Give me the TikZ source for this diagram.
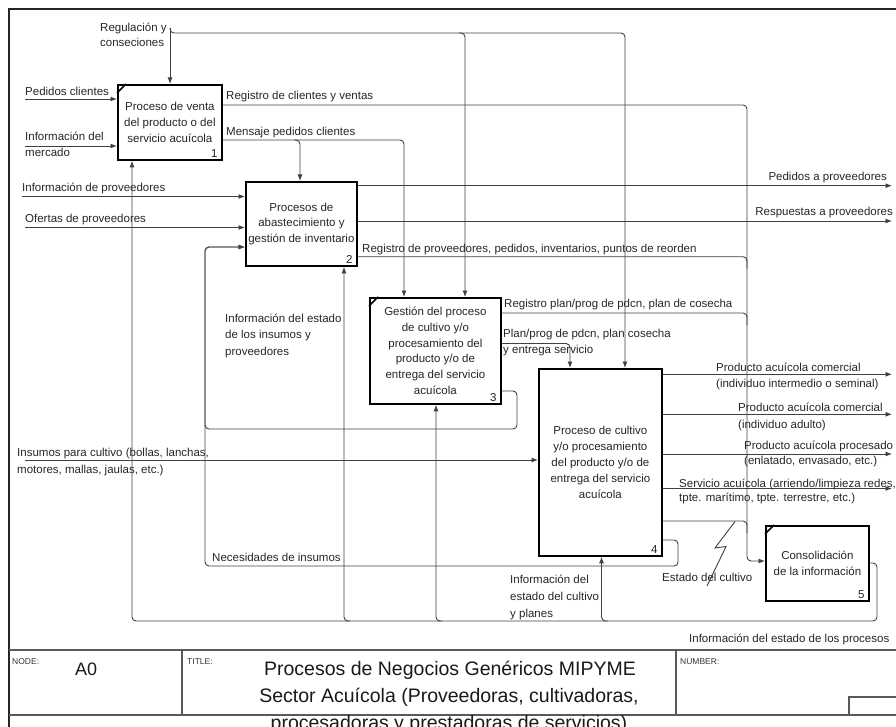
\documentclass[tikz,border=0pt]{standalone}
\usepackage{fontspec}
\setmainfont{Liberation Sans}
\usetikzlibrary{arrows.meta,calc}
\newcommand\lblfont{\fontsize{11.5}{15.5}\selectfont}
\newcommand\boxfont{\fontsize{11.5}{15.8}\selectfont}
\newcommand\tinyfont{\fontsize{8.5}{10}\selectfont}
\newcommand\titlefont{\fontsize{19.5}{27}\selectfont}
\begin{document}
\begin{tikzpicture}[x=1pt,y=-1pt,
  conn/.style={draw=black!75, line width=0.9pt, rounded corners=4pt},
  arr/.style={conn, -{Latex[length=6.5pt,width=5pt]}},
  lbl/.style={font=\lblfont, text=black!85, inner sep=0pt, anchor=base west},
  lble/.style={font=\lblfont, text=black!85, inner sep=0pt, anchor=base east},
  procbox/.style={draw=black, line width=1.8pt, fill=white, align=center, font=\boxfont, text=black!85, inner sep=1pt, anchor=north west},
  num/.style={font=\lblfont, text=black!85, inner sep=0pt, anchor=south east},
  corner/.style={line width=1.5pt, draw=black},
  blk/.style={draw=black!65, line width=1.3pt},
]
\useasboundingbox (0,0) rectangle (896,727);

% ---------- boxes ----------
\node[procbox, minimum width=104pt, minimum height=75pt] (b1) at (117,84) {Proceso de venta\\del producto o del\\servicio acuícola};
\node[procbox, minimum width=111pt, minimum height=84pt] (b2) at (245,181) {Procesos de\\abastecimiento y\\gestión de inventario};
\node[procbox, minimum width=131pt, minimum height=106pt] (b3) at (369,297) {Gestión del proceso\\de cultivo y/o\\procesamiento del\\producto y/o de\\entrega del servicio\\acuícola};
\node[procbox, minimum width=123pt, minimum height=187pt] (b4) at (538,368) {Proceso de cultivo\\y/o procesamiento\\del producto y/o de\\entrega del servicio\\acuícola};
\node[procbox, minimum width=103pt, minimum height=75pt] (b5) at (765,525) {Consolidación\\de la información};

\node[num] (n1) at ([shift={(-5,-3)}]b1.south east) {1};
\node[num] (n2) at ([shift={(-5,-3)}]b2.south east) {2};
\node[num] (n3) at ([shift={(-5,-3)}]b3.south east) {3};
\node[num] (n4) at ([shift={(-5,-3)}]b4.south east) {4};
\node[num] (n5) at ([shift={(-5,-3)}]b5.south east) {5};

\draw[corner] ([shift={(0,9)}]b1.north west) -- ([shift={(9,0)}]b1.north west);
\draw[corner] ([shift={(0,9)}]b3.north west) -- ([shift={(9,0)}]b3.north west);
\draw[corner] ([shift={(0,9)}]b5.north west) -- ([shift={(9,0)}]b5.north west);

% ---------- connectors ----------
% Regulacion y conseciones
\coordinate (reg) at (170,28);
\coordinate (regR) at (625,33);
\coordinate (regM) at (465,33);
\draw[arr] (reg) -- (reg |- b1.north);
\draw[arr] (reg) |- (regR) -- (regR |- b4.north);
\draw[arr] ([xshift=-6pt]regM) -| (regM |- b3.north);

% inputs box 1
\coordinate (pc) at (25,99);
\draw[arr] (pc) -- (pc -| b1.west);
\coordinate (im) at (25,146);
\draw[arr] (im) -- (im -| b1.west);

% Registro de clientes y ventas -> box 5
\coordinate (v5a) at (747,105);
\coordinate (v5b) at (747,561);
\draw[arr] (b1.east |- v5a) -- (v5a) -- (v5b) -- (v5b -| b5.west);

% Mensaje pedidos clientes
\coordinate (mp) at (404,140);
\coordinate (mb) at (300,140);
\draw[arr] (b1.east |- mp) -- (mp) -- (mp |- b3.north);
\draw[arr] ([xshift=-6pt]mb) -| (mb |- b2.north);

% inputs box 2
\coordinate (ip) at (22,196.5);
\draw[arr] (ip) -- (ip -| b2.west);
\coordinate (op) at (25,227.5);
\draw[arr] (op) -- (op -| b2.west);

% feedback loops to box 2
\coordinate (fb) at (205,247);
\coordinate (l3) at (517,391);
\coordinate (l3b) at (517,429);
\draw[arr] (b3.east |- l3) -- (l3) -- (l3b) -- (l3b -| fb) -- (fb) -- (fb -| b2.west);
\coordinate (l4) at (678,540);
\coordinate (l4b) at (678,566);
\draw[arr] (b4.east |- l4) -- (l4) -- (l4b) -- (l4b -| fb) -- (fb) -- (fb -| b2.west);

% outputs box 2
\coordinate (pp) at (892,185.7);
\draw[arr] (b2.east |- pp) -- (pp);
\coordinate (rp) at (892,221);
\draw[arr] (b2.east |- rp) -- (rp);
\coordinate (rpv) at (747,256.7);
\draw[conn] (b2.east |- rpv) -- (rpv) -- ++(0,12);

% outputs box 3
\coordinate (rpp) at (747,313);
\draw[conn] (b3.east |- rpp) -- (rpp) -- ++(0,12);
\coordinate (ppc) at (570,343.5);
\draw[arr] (b3.east |- ppc) -- (ppc) -- (ppc |- b4.north);

% input box 4
\coordinate (ins) at (25,460);
\draw[arr] (ins) -- (ins -| b4.west);

% outputs box 4
\coordinate (o1) at (892,374.3);
\coordinate (o2) at (892,414.3);
\coordinate (o3) at (892,454);
\coordinate (o4) at (892,488.5);
\draw[arr] (b4.east |- o1) -- (o1);
\draw[arr] (b4.east |- o2) -- (o2);
\draw[arr] (b4.east |- o3) -- (o3);
\draw[arr] (b4.east |- o4) -- (o4);
\coordinate (ec) at (747,521);
\draw[conn] (b4.east |- ec) -- (ec) -- ++(0,12);

% squiggle for Estado del cultivo
\coordinate (z1) at (735,521.5);
\coordinate (z2) at (715,548);
\coordinate (z3) at (726,546.5);
\coordinate (z4) at (707,586);
\draw[draw=black!75, line width=0.9pt] (z1) -- (z2) -- (z3) -- (z4);

% output box 5 -> feedback to all boxes
\coordinate (o5) at (877,563);
\coordinate (o5b) at (877,621);
\coordinate (f1) at (132,621);
\coordinate (f2) at (344,621);
\coordinate (f3) at (436,621);
\coordinate (f4) at (601.5,621);
\draw[arr] (b5.east |- o5) -- (o5) -- (o5b) -- (f1) -- (f1 |- b1.south);
\draw[arr] ([xshift=6pt]f2) -| (f2 |- b2.south);
\draw[arr] ([xshift=6pt]f3) -| (f3 |- b3.south);
\draw[arr] ([xshift=6pt]f4) -| (f4 |- b4.south);

% ---------- labels ----------
\node[lbl] (lreg1) at (100,32) {Regulación y};
\node[lbl] (lreg2) at (100,47) {conseciones};
\node[lbl] (lpc) at (25,96) {Pedidos clientes};
\node[lbl] (lim1) at (25,140.5) {Información del};
\node[lbl] (lim2) at (25,157) {mercado};
\node[lbl] (lrc) at (226,100) {Registro de clientes y ventas};
\node[lbl] (lmp) at (226,136) {Mensaje pedidos clientes};
\node[lbl] (lip) at (22,192) {Información de proveedores};
\node[lbl] (lop) at (25,222.5) {Ofertas de proveedores};
\node[lble] (lpp) at (887,181) {Pedidos a proveedores};
\node[lble] (lrp) at (893,216) {Respuestas a proveedores};
\node[lbl] (lrpv) at (362,252.5) {Registro de proveedores, pedidos, inventarios, puntos de reorden};
\node[lbl] (lei1) at (225,322.5) {Información del estado};
\node[lbl] (lei2) at (225,338.5) {de los insumos y};
\node[lbl] (lei3) at (225,355) {proveedores};
\node[lbl] (lrpp) at (504,307.5) {Registro plan/prog de pdcn, plan de cosecha};
\node[lbl] (lppc1) at (503,337) {Plan/prog de pdcn, plan cosecha};
\node[lbl] (lppc2) at (503,353.5) {y entrega servicio};
\node[lbl] (lins1) at (17,456) {Insumos para cultivo (bollas, lanchas,};
\node[lbl] (lins2) at (17,473) {motores, mallas, jaulas, etc.)};
\node[lbl] (lo1a) at (716,371) {Producto acuícola comercial};
\node[lbl] (lo1b) at (716,387) {(individuo intermedio o seminal)};
\node[lbl] (lo2a) at (738,411) {Producto acuícola comercial};
\node[lbl] (lo2b) at (738,428) {(individuo adulto)};
\node[lbl] (lo3a) at (744,449) {Producto acuícola procesado};
\node[lbl] (lo3b) at (744,464.5) {(enlatado, envasado, etc.)};
\node[lbl] (lo4a) at (679,487) {Servicio acuícola (arriendo/limpieza redes,};
\node[lbl] (lo4b) at (679,501) {tpte. marítimo, tpte. terrestre, etc.)};
\node[lbl] (lec) at (662,581.5) {Estado del cultivo};
\node[lbl] (lic1) at (510,583.5) {Información del};
\node[lbl] (lic2) at (510,600) {estado del cultivo};
\node[lbl] (lic3) at (510,617) {y planes};
\node[lbl] (lnec) at (212,561) {Necesidades de insumos};
\node[lbl] (lproc) at (689,642.5) {Información del estado de los procesos};

% ---------- frame and title block ----------
\draw[draw=black!85, line width=1.5pt] (9,727) -- (9,9) -- (896,9);
\draw[blk] (9,650) -- (896,650);
\draw[blk] (9,715) -- (896,715);
\draw[blk] (182,650) -- (182,715);
\draw[blk] (676,650) -- (676,715);
\draw[blk] (849,715) -- (849,697) -- (896,697);

\node[font=\tinyfont, text=black!80, inner sep=0pt, anchor=base west] (tnode) at (12,664) {NODE:};
\node[font=\fontsize{18}{20}\selectfont, text=black!90, inner sep=0pt, anchor=base west] (ta0) at (75,675) {A0};
\node[font=\tinyfont, text=black!80, inner sep=0pt, anchor=base west] (ttitle) at (187,664) {TITLE:};
\node[font=\tinyfont, text=black!80, inner sep=0pt, anchor=base west] (tnum) at (680,664) {NUMBER:};
\node[font=\titlefont, text=black!90, inner sep=0pt, anchor=base] (tl1) at (450,675) {Procesos de Negocios Genéricos MIPYME};
\node[font=\titlefont, text=black!90, inner sep=0pt, anchor=base] (tl2) at (449,702) {Sector Acuícola (Proveedoras, cultivadoras,};
\node[font=\titlefont, text=black!90, inner sep=0pt, anchor=base] (tl3) at (449,729) {procesadoras y prestadoras de servicios)};
\end{tikzpicture}
\end{document}
